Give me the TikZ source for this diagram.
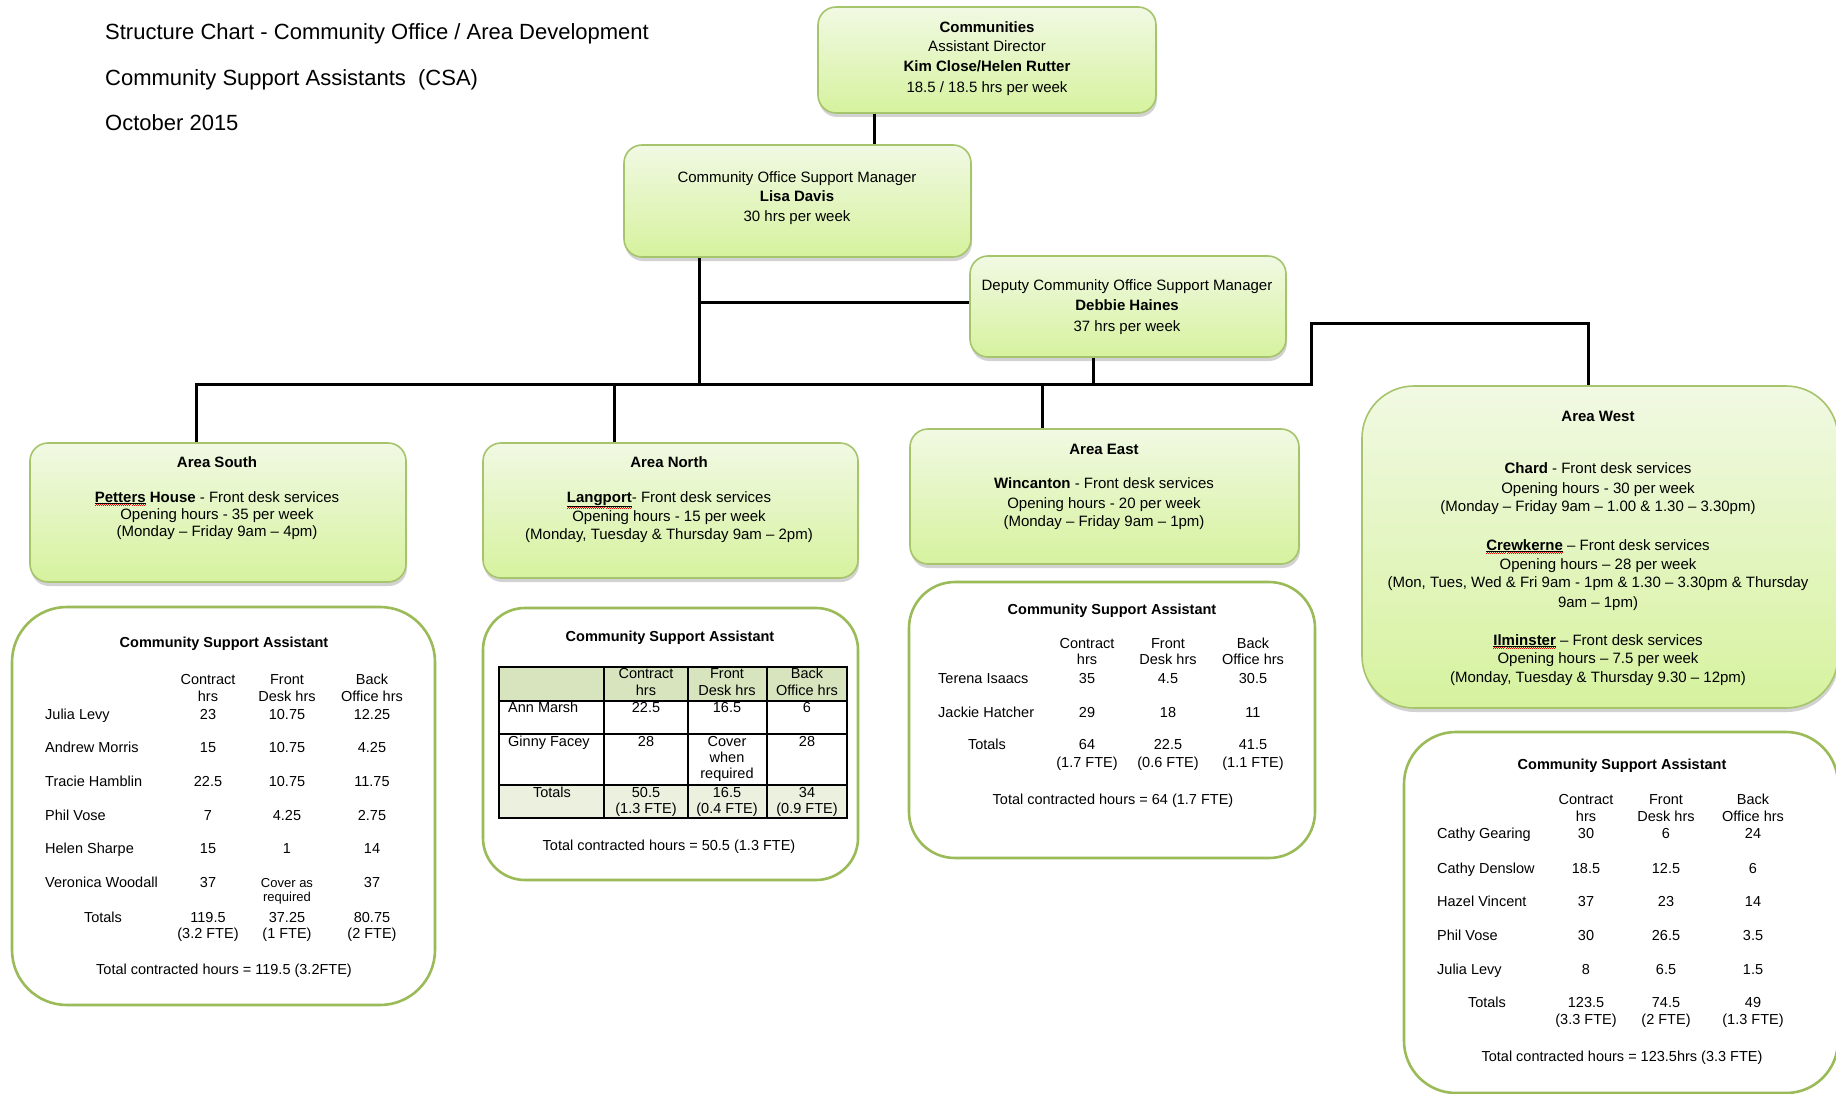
\documentclass[tikz,border=0pt]{standalone}
\usepackage{fontspec}
\setmainfont{Liberation Sans}
\usetikzlibrary{shadows}
\definecolor{boxtop}{HTML}{F1F9E3}
\definecolor{boxbot}{HTML}{D6F29E}
\definecolor{boxline}{HTML}{A6C46C}
\definecolor{csaline}{HTML}{9BBB59}
\definecolor{hdrfill}{HTML}{D7E4BD}
\definecolor{totfill}{HTML}{EBF1DE}
\newsavebox\msbox
\newcommand\misspelt[1]{\sbox\msbox{\bfseries #1}\leavevmode\smash{\rlap{\raisebox{-\dimexpr\dp\msbox+3.6pt\relax}{\textcolor{red}{\hbox to \wd\msbox{\xleaders\hbox{\rule[0pt]{1pt}{0.8pt}\rule[0.9pt]{1pt}{0.8pt}}\hfil}}}}\underline{\usebox\msbox}}}
\tikzset{
  greenbox/.style={draw=boxline, line width=1.6pt, rounded corners=18pt, top color=boxtop, bottom color=boxbot,
    drop shadow={opacity=0.35, shadow xshift=1pt, shadow yshift=-4pt}, inner sep=0},
  csabox/.style={draw=csaline, line width=2.6pt, fill=white, rounded corners=48pt, inner sep=0},
  conn/.style={line width=3pt, black, line join=miter},
  titlet/.style={font=\fontsize{22}{26}\selectfont, anchor=base west, yshift=-8pt, inner sep=0},
  txt/.style={font=\fontsize{15}{18}\selectfont, anchor=base, yshift=-5pt, inner sep=0},
  tbl/.style={font=\fontsize{14.5}{17}\selectfont, anchor=base, yshift=-5pt, inner sep=0},
  tbln/.style={tbl, anchor=base west},
  tbls/.style={font=\fontsize{13}{15}\selectfont, anchor=base, yshift=-5pt, inner sep=0},
}
\begin{document}
\begin{tikzpicture}[x=1pt,y=-1pt]
\fill[white] (0,0) rectangle (1836,1094);
\clip (0,0) rectangle (1836,1094);

% ---------- titles
\node[titlet] (t1) at (105,32) {Structure Chart - Community Office / Area Development};
\node[titlet] (t2) at (105,78) {Community Support Assistants\ \ (CSA)};
\node[titlet] (t3) at (105,123) {October 2015};

% ---------- green boxes
\node[greenbox, minimum width=338pt, minimum height=106pt] (comm) at (987,60) {};
\node[greenbox, minimum width=347pt, minimum height=112pt] (lisa) at (797.5,201) {};
\node[greenbox, minimum width=316pt, minimum height=101pt] (deputy) at (1128,306.5) {};
\node[greenbox, minimum width=376pt, minimum height=139pt] (south) at (218,512.5) {};
\node[greenbox, minimum width=375pt, minimum height=135pt] (north) at (670.5,510.5) {};
\node[greenbox, minimum width=389pt, minimum height=135pt] (east) at (1104.5,496.5) {};
\node[greenbox, rounded corners=52pt, minimum width=476pt, minimum height=322pt] (west) at (1600,547) {};

% ---------- CSA boxes
\node[csabox, rounded corners=55pt, minimum width=423pt, minimum height=398pt] (csas) at (223.5,806) {};
\node[csabox, rounded corners=42pt, minimum width=375pt, minimum height=272pt] (csan) at (670.5,744) {};
\node[csabox, rounded corners=46pt, minimum width=406pt, minimum height=276pt] (csae) at (1112,720) {};
\node[csabox, rounded corners=52pt, minimum width=434pt, minimum height=361pt] (csaw) at (1621,912.5) {};

% ---------- connectors
\coordinate (xc) at (874,0);
\coordinate (xl) at (699,302);
\coordinate (xd) at (1093,0);
\coordinate (xn) at (614,0);
\coordinate (xe) at (1042,0);
\coordinate (busL) at (196,384);
\coordinate (busR) at (1311,384);
\coordinate (wt) at (1588,323);
\draw[conn] (xc |- comm.south) -- (xc |- lisa.north);
\draw[conn] (xl |- lisa.south) -- (xl |- busL);
\draw[conn] (xl) -- (xl -| deputy.west);
\draw[conn] (xd |- deputy.south) -- (xd |- busL);
\draw[conn] (busL |- south.north) -- (busL) -- (busR) -- (busR |- wt) -- (wt) -- (wt |- west.north);
\draw[conn] (xn |- busL) -- (xn |- north.north);
\draw[conn] (xe |- busL) -- (xe |- east.north);

% ---------- box texts
\node[txt] (c1) at (987,28) {\textbf{Communities}};
\node[txt] (c2) at (987,47) {Assistant Director};
\node[txt] (c3) at (987,67) {\textbf{Kim Close/Helen Rutter}};
\node[txt] (c4) at (987,88) {18.5 / 18.5 hrs\ per week};

\node[txt] (l1) at (797,178) {Community Office Support Manager};
\node[txt] (l2) at (797,197) {\textbf{Lisa Davis}};
\node[txt] (l3) at (797,217) {30 hrs\ per week};

\node[txt] (d1) at (1127,285) {Deputy Community Office Support Manager};
\node[txt] (d2) at (1127,305) {\textbf{Debbie Haines}};
\node[txt] (d3) at (1127,326) {37 hrs\ per week};

\node[txt] (s1) at (217,462) {\textbf{Area\ South}};
\node[txt] (s2) at (217,497) {\misspelt{Petters} \textbf{House} - Front desk services};
\node[txt] (s3) at (217,514) {Opening hours - 35 per week};
\node[txt] (s4) at (217,531) {(Monday – Friday 9am – 4pm)};

\node[txt] (n1) at (669,462) {\textbf{Area North}};
\node[txt] (n2) at (669,497) {\misspelt{Langport}- Front desk services};
\node[txt] (n3) at (669,516) {Opening hours - 15 per week};
\node[txt] (n4) at (669,534) {(Monday, Tuesday \& Thursday 9am – 2pm)};

\node[txt] (e1) at (1104,449) {\textbf{Area East}};
\node[txt] (e2) at (1104,483) {\textbf{Wincanton} - Front desk services};
\node[txt] (e3) at (1104,503) {Opening hours - 20 per week};
\node[txt] (e4) at (1104,521) {(Monday – Friday 9am – 1pm)};

\node[txt] (w1) at (1598,416) {\textbf{Area West}};
\node[txt] (w2) at (1598,468) {\textbf{Chard} - Front desk services};
\node[txt] (w3) at (1598,488) {Opening hours - 30 per week};
\node[txt] (w4) at (1598,506) {(Monday – Friday 9am – 1.00 \& 1.30 – 3.30pm)};
\node[txt] (w5) at (1598,545) {\misspelt{Crewkerne} – Front desk services};
\node[txt] (w6) at (1598,564) {Opening hours – 28 per week};
\node[txt] (w7) at (1598,582) {(Mon, Tues, Wed \& Fri 9am - 1pm \& 1.30 – 3.30pm \& Thursday};
\node[txt] (w8) at (1598,602) {9am – 1pm)};
\node[txt] (w9) at (1598,640) {\misspelt{Ilminster} – Front desk services};
\node[txt] (w10) at (1598,658) {Opening hours – 7.5 per week};
\node[txt] (w11) at (1598,677) {(Monday, Tuesday \& Thursday 9.30 – 12pm)};

% ---------- CSA South
\node[tbl] (ss0) at (224,642) {\textbf{Community\ Support Assistant}};
\node[tbl] (sh1) at (208,679) {Contract};
\node[tbl] (sh2) at (208,696) {hrs};
\node[tbl] (sh3) at (287,679) {Front};
\node[tbl] (sh4) at (287,696) {Desk hrs};
\node[tbl] (sh5) at (372,679) {Back};
\node[tbl] (sh6) at (372,696) {Office hrs};
\foreach \y/\n/\a/\b/\c [count=\i] in {714/Julia Levy/23/10.75/12.25, 747/Andrew Morris/15/10.75/4.25,
  781/Tracie Hamblin/22.5/10.75/11.75, 815/Phil Vose/7/4.25/2.75, 848/Helen Sharpe/15/1/14}{
  \node[tbln] (sn\i) at (45,\y) {\n};
  \node[tbl] (sa\i) at (208,\y) {\a};
  \node[tbl] (sb\i) at (287,\y) {\b};
  \node[tbl] (sc\i) at (372,\y) {\c};
}
\node[tbln] (sn6) at (45,882) {Veronica Woodall};
\node[tbl] (sa6) at (208,882) {37};
\node[tbls] (sb6) at (287,882) {Cover as};
\node[tbls] (sb6b) at (287,896) {required};
\node[tbl] (sc6) at (372,882) {37};
\node[tbl] (st0) at (103,917) {Totals};
\node[tbl] (st1) at (208,917) {119.5};
\node[tbl] (st1b) at (208,933) {(3.2 FTE)};
\node[tbl] (st2) at (287,917) {37.25};
\node[tbl] (st2b) at (287,933) {(1 FTE)};
\node[tbl] (st3) at (372,917) {80.75};
\node[tbl] (st3b) at (372,933) {(2 FTE)};
\node[tbl] (sx) at (224,969) {Total contracted hours = 119.5 (3.2FTE)};

% ---------- CSA North (grid table)
\node[tbl] (ns0) at (670,636) {\textbf{Community\ Support Assistant}};
\fill[hdrfill] (499,667) rectangle (847,701);
\fill[totfill] (499,785) rectangle (847,818);
\draw[line width=1.2pt] (499,701) -- (847,701) (499,734) -- (847,734) (499,785) -- (847,785)
  (604,667) -- (604,818) (688,667) -- (688,818) (767,667) -- (767,818);
\draw[line width=1.8pt] (499,667) rectangle (847,818);
\node[tbl] (nh1) at (646,673) {Contract};
\node[tbl] (nh2) at (646,690) {hrs};
\node[tbl] (nh3) at (727,673) {Front};
\node[tbl] (nh4) at (727,690) {Desk hrs};
\node[tbl] (nh5) at (807,673) {Back};
\node[tbl] (nh6) at (807,690) {Office hrs};
\node[tbln] (nn1) at (508,707) {Ann Marsh};
\node[tbl] (na1) at (646,707) {22.5};
\node[tbl] (nb1) at (727,707) {16.5};
\node[tbl] (nc1) at (807,707) {6};
\node[tbln] (nn2) at (508,741) {Ginny Facey};
\node[tbl] (na2) at (646,741) {28};
\node[tbl] (nb2) at (727,741) {Cover};
\node[tbl] (nb2b) at (727,757) {when};
\node[tbl] (nb2c) at (727,773) {required};
\node[tbl] (nc2) at (807,741) {28};
\node[tbl] (nt0) at (552,792) {Totals};
\node[tbl] (nt1) at (646,792) {50.5};
\node[tbl] (nt1b) at (646,808) {(1.3 FTE)};
\node[tbl] (nt2) at (727,792) {16.5};
\node[tbl] (nt2b) at (727,808) {(0.4 FTE)};
\node[tbl] (nt3) at (807,792) {34};
\node[tbl] (nt3b) at (807,808) {(0.9 FTE)};
\node[tbl] (nx) at (669,845) {Total contracted hours = 50.5 (1.3 FTE)};

% ---------- CSA East
\node[tbl] (es0) at (1112,609) {\textbf{Community\ Support Assistant}};
\node[tbl] (eh1) at (1087,643) {Contract};
\node[tbl] (eh2) at (1087,659) {hrs};
\node[tbl] (eh3) at (1168,643) {Front};
\node[tbl] (eh4) at (1168,659) {Desk hrs};
\node[tbl] (eh5) at (1253,643) {Back};
\node[tbl] (eh6) at (1253,659) {Office hrs};
\foreach \y/\n/\a/\b/\c [count=\i] in {678/Terena Isaacs/35/4.5/30.5, 712/Jackie Hatcher/29/18/11}{
  \node[tbln] (en\i) at (938,\y) {\n};
  \node[tbl] (ea\i) at (1087,\y) {\a};
  \node[tbl] (eb\i) at (1168,\y) {\b};
  \node[tbl] (ec\i) at (1253,\y) {\c};
}
\node[tbl] (et0) at (987,744) {Totals};
\node[tbl] (et1) at (1087,744) {64};
\node[tbl] (et1b) at (1087,762) {(1.7 FTE)};
\node[tbl] (et2) at (1168,744) {22.5};
\node[tbl] (et2b) at (1168,762) {(0.6 FTE)};
\node[tbl] (et3) at (1253,744) {41.5};
\node[tbl] (et3b) at (1253,762) {(1.1 FTE)};
\node[tbl] (ex) at (1113,799) {Total contracted hours = 64 (1.7 FTE)};

% ---------- CSA West
\node[tbl] (ws0) at (1622,764) {\textbf{Community\ Support Assistant}};
\node[tbl] (wh1) at (1586,799) {Contract};
\node[tbl] (wh2) at (1586,816) {hrs};
\node[tbl] (wh3) at (1666,799) {Front};
\node[tbl] (wh4) at (1666,816) {Desk hrs};
\node[tbl] (wh5) at (1753,799) {Back};
\node[tbl] (wh6) at (1753,816) {Office hrs};
\foreach \y/\n/\a/\b/\c [count=\i] in {833/Cathy Gearing/30/6/24, 868/Cathy Denslow/18.5/12.5/6,
  901/Hazel Vincent/37/23/14, 935/Phil Vose/30/26.5/3.5, 969/Julia Levy/8/6.5/1.5}{
  \node[tbln] (wn\i) at (1437,\y) {\n};
  \node[tbl] (wa\i) at (1586,\y) {\a};
  \node[tbl] (wb\i) at (1666,\y) {\b};
  \node[tbl] (wc\i) at (1753,\y) {\c};
}
\node[tbl] (wt0) at (1487,1002) {Totals};
\node[tbl] (wt1) at (1586,1002) {123.5};
\node[tbl] (wt1b) at (1586,1019) {(3.3 FTE)};
\node[tbl] (wt2) at (1666,1002) {74.5};
\node[tbl] (wt2b) at (1666,1019) {(2 FTE)};
\node[tbl] (wt3) at (1753,1002) {49};
\node[tbl] (wt3b) at (1753,1019) {(1.3 FTE)};
\node[tbl] (wx) at (1622,1056) {Total contracted hours = 123.5hrs (3.3 FTE)};
\end{tikzpicture}
\end{document}
